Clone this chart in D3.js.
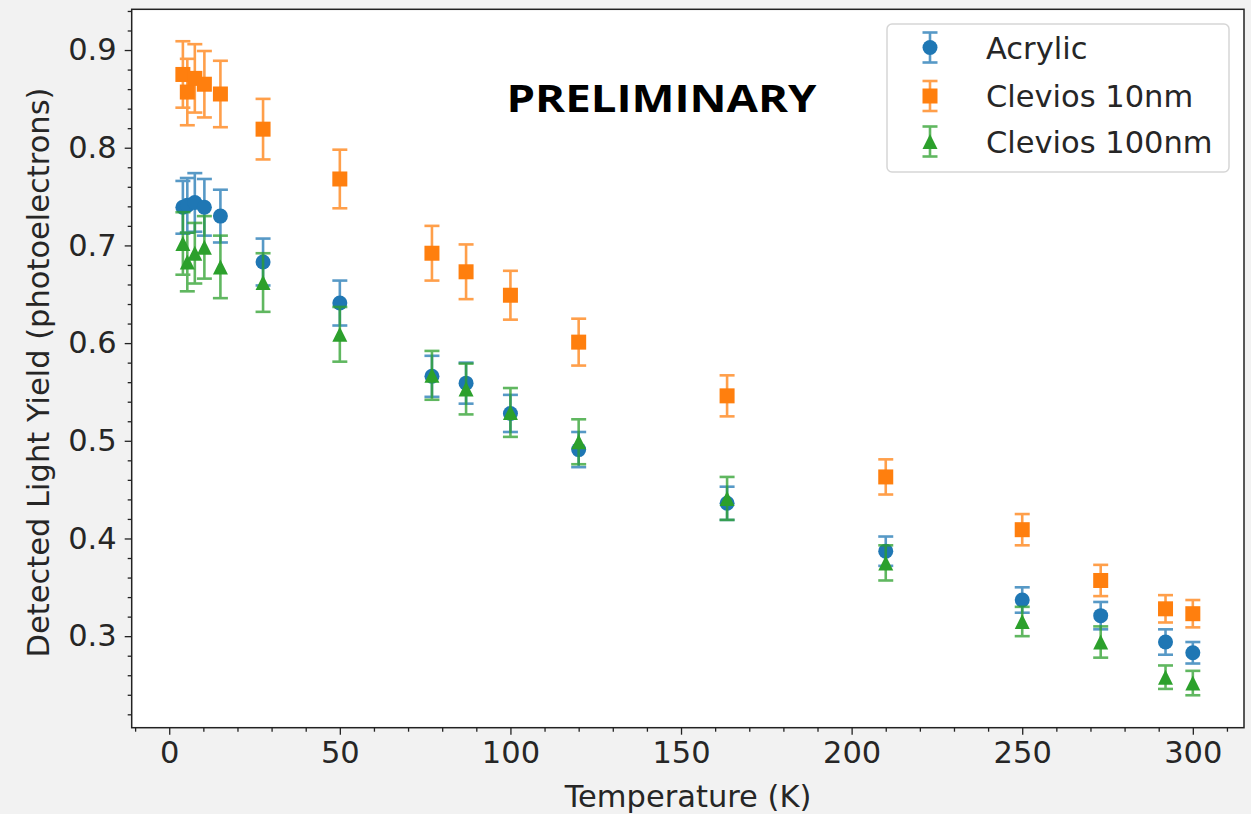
<!DOCTYPE html>
<html>
<head>
<meta charset="utf-8">
<script src="https://cdn.jsdelivr.net/npm/d3@7/dist/d3.min.js"></script>
<style>
  html, body { margin: 0; padding: 0; background: #f2f2f2; }
  svg { display: block; }
  text { font-family: "DejaVu Sans", sans-serif; }
</style>
</head>
<body>
<svg id="chart" width="1251" height="814"></svg>
<script>
// ---- data ----
const temperatures = [4, 5.3, 7.5, 10.3, 15, 27.5, 50, 77, 87, 100, 120, 163.5, 210, 250, 273, 292, 300];

const acrylicValues = [0.739, 0.741, 0.744, 0.739, 0.730, 0.683, 0.641, 0.566, 0.559, 0.528, 0.491, 0.436, 0.387, 0.337, 0.321, 0.294, 0.283];
const acrylicErrors = [0.027, 0.028, 0.030, 0.029, 0.027, 0.024, 0.023, 0.021, 0.021, 0.019, 0.018, 0.017, 0.015, 0.013, 0.014, 0.013, 0.011];

const clevios10Values = [0.875, 0.857, 0.871, 0.865, 0.855, 0.819, 0.768, 0.692, 0.673, 0.649, 0.601, 0.546, 0.463, 0.409, 0.357, 0.328, 0.323];
const clevios10Errors = [0.034, 0.034, 0.035, 0.034, 0.034, 0.031, 0.030, 0.028, 0.028, 0.025, 0.024, 0.021, 0.018, 0.016, 0.016, 0.014, 0.014];

const clevios100Values = [0.702, 0.683, 0.692, 0.698, 0.678, 0.662, 0.609, 0.567, 0.553, 0.529, 0.499, 0.441, 0.375, 0.315, 0.294, 0.258, 0.252];
const clevios100Errors = [0.032, 0.030, 0.031, 0.032, 0.032, 0.030, 0.028, 0.025, 0.026, 0.025, 0.023, 0.022, 0.018, 0.015, 0.016, 0.012, 0.0125];

const seriesNames = ["Acrylic", "Clevios 10nm", "Clevios 100nm"];
const seriesColors = ["#1f77b4", "#ff7f0e", "#2ca02c"];
const seriesMarkers = ["circle", "square", "triangle"];

const xTicks = [0, 50, 100, 150, 200, 250, 300];
const yTicks = [0.3, 0.4, 0.5, 0.6, 0.7, 0.8, 0.9];
const xLabel = "Temperature (K)";
const yLabel = "Detected Light Yield (photoelectrons)";
const watermark = "PRELIMINARY";

// ---- layout ----
const svg = d3.select("#chart");
const W = 1251, H = 814;
const pLeft = 131.7, pRight = 1244, pTop = 9.3, pBottom = 727.7;

svg.append("rect").attr("width", W).attr("height", H).attr("fill", "#f2f2f2");

const x = d3.scaleLinear().domain([-11.0, 315.0]).range([pLeft, pRight]);
const y = d3.scaleLinear().domain([0.2063, 0.9417]).range([pBottom, pTop]);

svg.append("rect")
  .attr("x", pLeft).attr("y", pTop)
  .attr("width", pRight - pLeft).attr("height", pBottom - pTop)
  .attr("fill", "#ffffff");

// ---- axes ----
const fontSize = 30.5;
const xMinor = d3.range(-10, 316, 10).filter(v => v % 50 !== 0);
const yMinor = d3.range(0.22, 0.941, 0.02).map(v => +v.toFixed(2)).filter(v => Math.round(v * 100) % 10 !== 0);

const gxMinor = svg.append("g").attr("transform", `translate(0,${pBottom})`)
  .call(d3.axisBottom(x).tickValues(xMinor).tickSize(4).tickFormat(""));
const gx = svg.append("g").attr("transform", `translate(0,${pBottom})`)
  .call(d3.axisBottom(x).tickValues(xTicks).tickSize(7).tickPadding(7).tickFormat(d3.format("d")));
const gyMinor = svg.append("g").attr("transform", `translate(${pLeft},0)`)
  .call(d3.axisLeft(y).tickValues(yMinor).tickSize(4).tickFormat(""));
const gy = svg.append("g").attr("transform", `translate(${pLeft},0)`)
  .call(d3.axisLeft(y).tickValues(yTicks).tickSize(7).tickPadding(8).tickFormat(d3.format(".1f")));

[gx, gy, gxMinor, gyMinor].forEach(g => {
  g.select(".domain").remove();
  g.selectAll(".tick line").attr("stroke", "#222").attr("stroke-width", 1.3);
  g.selectAll(".tick text").attr("fill", "#262626")
    .style("font-family", "DejaVu Sans").style("font-size", fontSize + "px");
});

// ---- data marks ----
const seriesValues = [acrylicValues, clevios10Values, clevios100Values];
const seriesErrors = [acrylicErrors, clevios10Errors, clevios100Errors];
const ms = 15, capHalf = 7.5;

function drawMarker(g, type, cx, cy, color) {
  if (type === "circle") {
    g.append("circle").attr("cx", cx).attr("cy", cy).attr("r", ms / 2).attr("fill", color);
  } else if (type === "square") {
    g.append("rect").attr("x", cx - ms / 2).attr("y", cy - ms / 2)
      .attr("width", ms).attr("height", ms).attr("fill", color);
  } else {
    g.append("path")
      .attr("d", `M${cx},${cy - ms / 2}L${cx - ms / 2},${cy + ms / 2}L${cx + ms / 2},${cy + ms / 2}Z`)
      .attr("fill", color);
  }
}

const plot = svg.append("g");
seriesNames.forEach((name, si) => {
  const g = plot.append("g");
  const color = seriesColors[si];
  const vals = seriesValues[si], errs = seriesErrors[si];
  const eb = g.append("g").attr("stroke", color).attr("stroke-width", 2.6).attr("opacity", 0.75);
  temperatures.forEach((t, i) => {
    const cx = x(t), y1 = y(vals[i] + errs[i]), y0 = y(vals[i] - errs[i]);
    eb.append("line").attr("x1", cx).attr("x2", cx).attr("y1", y1).attr("y2", y0);
    eb.append("line").attr("x1", cx - capHalf).attr("x2", cx + capHalf).attr("y1", y1).attr("y2", y1);
    eb.append("line").attr("x1", cx - capHalf).attr("x2", cx + capHalf).attr("y1", y0).attr("y2", y0);
  });
  const mk = g.append("g");
  temperatures.forEach((t, i) => drawMarker(mk, seriesMarkers[si], x(t), y(vals[i]), color));
});

// ---- frame ----
svg.append("rect")
  .attr("x", pLeft).attr("y", pTop)
  .attr("width", pRight - pLeft).attr("height", pBottom - pTop)
  .attr("fill", "none").attr("stroke", "#222").attr("stroke-width", 1.5);

// ---- axis labels ----
svg.append("text").attr("x", 688).attr("y", 807)
  .attr("text-anchor", "middle").attr("fill", "#262626")
  .style("font-size", fontSize + "px").text(xLabel);
svg.append("text").attr("transform", `translate(49,${(pTop + pBottom) / 2 + 4}) rotate(-90)`)
  .attr("text-anchor", "middle").attr("fill", "#262626")
  .style("font-size", fontSize + "px").text(yLabel);

// ---- watermark ----
svg.append("text").attr("x", 661.5).attr("y", 111.5)
  .attr("text-anchor", "middle").attr("fill", "#000")
  .attr("textLength", 310).attr("lengthAdjust", "spacingAndGlyphs")
  .style("font-family", "'Open Sans', 'Noto Sans', sans-serif")
  .style("font-weight", "bold").style("font-size", "37px")
  .text(watermark);

// ---- legend ----
const lg = svg.append("g");
lg.append("rect").attr("x", 887).attr("y", 24).attr("width", 342).attr("height", 148)
  .attr("rx", 5).attr("ry", 5)
  .attr("fill", "#ffffff").attr("fill-opacity", 0.8)
  .attr("stroke", "#d6d6d6").attr("stroke-width", 1.5);
const rowY = [47.5, 96, 141.5];
seriesNames.forEach((name, si) => {
  const cy = rowY[si], cx = 930, color = seriesColors[si];
  const eb = lg.append("g").attr("stroke", color).attr("stroke-width", 2.6).attr("opacity", 0.75);
  eb.append("line").attr("x1", cx).attr("x2", cx).attr("y1", cy - 15).attr("y2", cy + 15);
  eb.append("line").attr("x1", cx - capHalf).attr("x2", cx + capHalf).attr("y1", cy - 15).attr("y2", cy - 15);
  eb.append("line").attr("x1", cx - capHalf).attr("x2", cx + capHalf).attr("y1", cy + 15).attr("y2", cy + 15);
  drawMarker(lg, seriesMarkers[si], cx, cy, color);
  lg.append("text").attr("x", 986).attr("y", cy + 11)
    .attr("fill", "#262626").style("font-size", fontSize + "px").text(name);
});
</script>
</body>
</html>
